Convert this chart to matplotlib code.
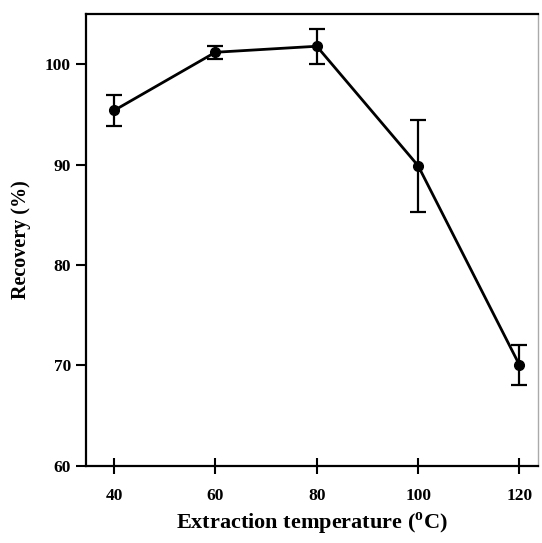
import matplotlib
matplotlib.use("Agg")
import matplotlib.pyplot as plt

temperature = [40, 60, 80, 100, 120]
recovery = [95.4, 101.2, 101.8, 89.9, 70.05]
error = [1.5, 0.65, 1.75, 4.6, 2.0]
x_ticks = [40, 60, 80, 100, 120]
y_ticks = [60, 70, 80, 90, 100]

plt.rcParams['font.family'] = ['Liberation Serif', 'DejaVu Serif']
plt.rcParams['font.weight'] = 'bold'
plt.rcParams['mathtext.fontset'] = 'custom'
plt.rcParams['mathtext.rm'] = 'Liberation Serif:bold'
plt.rcParams['mathtext.bf'] = 'Liberation Serif:bold'

fig = plt.figure(figsize=(5.42, 5.43), dpi=100)
ax = fig.add_axes([0.159, 0.142, 0.834, 0.832])

ax.errorbar(temperature, recovery, yerr=error, color='black', lw=2,
            marker='o', markersize=7, capsize=6, capthick=1.6, elinewidth=1.6)

ax.set_xlim(34.5, 123.7)
ax.set_ylim(60, 105)
ax.set_xticks(x_ticks)
ax.set_yticks(y_ticks)
ax.tick_params(axis='x', direction='inout', length=12, width=1.5, labelsize=12.5, pad=10)
ax.tick_params(axis='y', direction='out', length=7, width=1.5, labelsize=12.5, pad=4)
for lab in ax.get_xticklabels() + ax.get_yticklabels():
    lab.set_fontweight('bold')

for s in ['left', 'bottom', 'top']:
    ax.spines[s].set_linewidth(1.6)
ax.spines['right'].set_color('#aaaaaa')
ax.spines['right'].set_linewidth(1.0)
ax.spines['right'].set_linestyle((0, (1, 1)))

ax.set_xlabel(r'Extraction temperature ($^{\mathrm{o}}$C)', fontsize=16, fontweight='bold', labelpad=5)
ax.set_ylabel('Recovery (%)', fontsize=14.5, fontweight='bold', labelpad=10)

fig.savefig('out.png', dpi=100)
